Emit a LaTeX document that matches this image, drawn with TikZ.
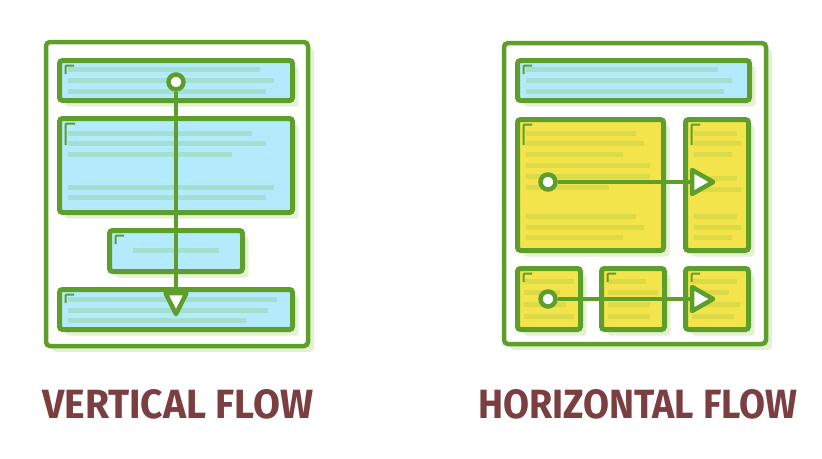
\documentclass[tikz,border=0pt]{standalone}
\usepackage{fontspec}
\usetikzlibrary{shapes.geometric,fit,shadows}
\newfontfamily\labelfont{Fira Sans}
\definecolor{gr}{HTML}{5E9E2B}
\definecolor{shc}{HTML}{E4F1D3}
\definecolor{bluec}{HTML}{B3EBFC}
\definecolor{bluetxt}{HTML}{A4DECF}
\definecolor{yelc}{HTML}{F3E44C}
\definecolor{yeltxt}{HTML}{DDDA48}
\definecolor{brownc}{HTML}{7B3F41}
\begin{document}
\begin{tikzpicture}[x=1pt,y=-1pt,
  frame/.style={draw=gr, line width=4.5pt, rounded corners=4pt, fill=white, inner sep=0pt,
    general shadow={fill=shc, shadow xshift=6pt, shadow yshift=-6pt}},
  bluebox/.style={frame, line width=5pt, fill=bluec, rounded corners=3pt},
  yelbox/.style={frame, line width=5pt, fill=yelc, rounded corners=3pt},
  btxt/.style={line width=5pt, draw=bluetxt},
  ytxt/.style={line width=5pt, draw=yeltxt},
  cornerm/.style={draw=gr, line width=2pt, rounded corners=1pt},
  dot/.style={circle, draw=gr, fill=white, line width=4.5pt, minimum size=15pt, inner sep=0pt},
  arrowtri/.style={isosceles triangle, isosceles triangle stretches, draw=gr, fill=white,
    line width=4.5pt, line join=round, inner sep=0pt, minimum height=21pt, minimum width=24pt},
  flow/.style={draw=gr, line width=4pt},
  caption/.style={inner sep=0pt, text=brownc, font=\labelfont\bfseries}
]
\useasboundingbox[fill=white] (0,0) rectangle (822,458);

% ---------------- left: vertical flow ----------------
\node[frame, fit={(46,42) (308,346)}] (lf) {};
\node[bluebox, fit={(59.5,60.5) (292.5,100.5)}] (l1) {};
\node[bluebox, fit={(59.5,118.5) (292.5,212.5)}] (l2) {};
\node[bluebox, fit={(109.5,230.5) (242.5,271.5)}] (l3) {};
\node[bluebox, fit={(59.5,289.5) (292.5,329.5)}] (l4) {};

\foreach \y/\e in {69/260,80/274,91/266} \draw[btxt] (68,\y) -- (\e,\y);
\foreach \y/\e in {133/252,143/266,154/232,187/274,197/266} \draw[btxt] (68,\y) -- (\e,\y);
\draw[btxt] (133,250) -- (219,250);
\foreach \y/\e in {299/277,310/268,320/246} \draw[btxt] (68,\y) -- (\e,\y);

\draw[cornerm] (65.5,74) -- (65.5,65.5) -- (74,65.5);
\draw[cornerm] (65.5,145) -- (65.5,123.5) -- (75,123.5);
\draw[cornerm] (115.5,244) -- (115.5,235.5) -- (124,235.5);
\draw[cornerm] (65.5,303) -- (65.5,294.5) -- (74,294.5);

\node[dot] (vs) at (176,82) {};
\node[arrowtri, minimum width=21pt, shape border rotate=270, anchor=apex] (ve) at (176,320) {};
\draw[flow] (vs) -- (ve);

% ---------------- right: horizontal flow ----------------
\node[frame, fit={(504,43) (766,344)}] (rf) {};
\node[bluebox, fit={(517.5,60.5) (749.5,100.5)}] (r0) {};
\node[yelbox, fit={(517.5,119.5) (663.5,250.5)}] (r1) {};
\node[yelbox, fit={(685.5,119.5) (748.5,250.5)}] (r2) {};
\node[yelbox, fit={(517.5,268.5) (580.5,329.5)}] (r3) {};
\node[yelbox, fit={(601.5,268.5) (664.5,329.5)}] (r4) {};
\node[yelbox, fit={(685.5,268.5) (748.5,329.5)}] (r5) {};

\foreach \y/\e in {69/718,80/732,91/724} \draw[btxt] (526,\y) -- (\e,\y);
\foreach \y/\e in {133/636,143/644,154/623,165/650,176/650,187/609,216/636,227/644,237/623}
  \draw[ytxt] (526,\y) -- (\e,\y);
\foreach \y/\e in {133/737,143/741,154/732,178/737,189/741,216/737,227/741,237/732}
  \draw[ytxt] (694,\y) -- (\e,\y);
\foreach \y/\e in {281/574,292/560,304/566,316/574} \draw[ytxt] (524,\y) -- (\e,\y);
\foreach \y/\e in {281/646,292/658,304/650,316/650} \draw[ytxt] (608,\y) -- (\e,\y);
\foreach \y/\e in {281/737,292/729,304/740,316/734} \draw[ytxt] (692,\y) -- (\e,\y);

\draw[cornerm] (523.5,74) -- (523.5,65.5) -- (532,65.5);
\draw[cornerm] (523.5,145) -- (523.5,124.5) -- (532,124.5);
\draw[cornerm] (691.5,145) -- (691.5,124.5) -- (700,124.5);
\draw[cornerm] (523.5,282) -- (523.5,273.5) -- (532,273.5);
\draw[cornerm] (607.5,282) -- (607.5,273.5) -- (616,273.5);
\draw[cornerm] (691.5,282) -- (691.5,273.5) -- (700,273.5);

\node[dot] (hs1) at (548,182) {};
\node[arrowtri, anchor=apex] (he1) at (719,182) {};
\draw[flow] (hs1) -- (he1);
\node[dot] (hs2) at (548,299) {};
\node[arrowtri, anchor=apex] (he2) at (719,299) {};
\draw[flow] (hs2) -- (he2);

% ---------------- captions ----------------
\node[caption, anchor=base west] (lc) at (42,418) {\resizebox{271pt}{29pt}{VERTICAL FLOW}};
\node[caption, anchor=base west] (rc) at (478,418) {\resizebox{319pt}{29pt}{HORIZONTAL FLOW}};
\end{tikzpicture}
\end{document}
